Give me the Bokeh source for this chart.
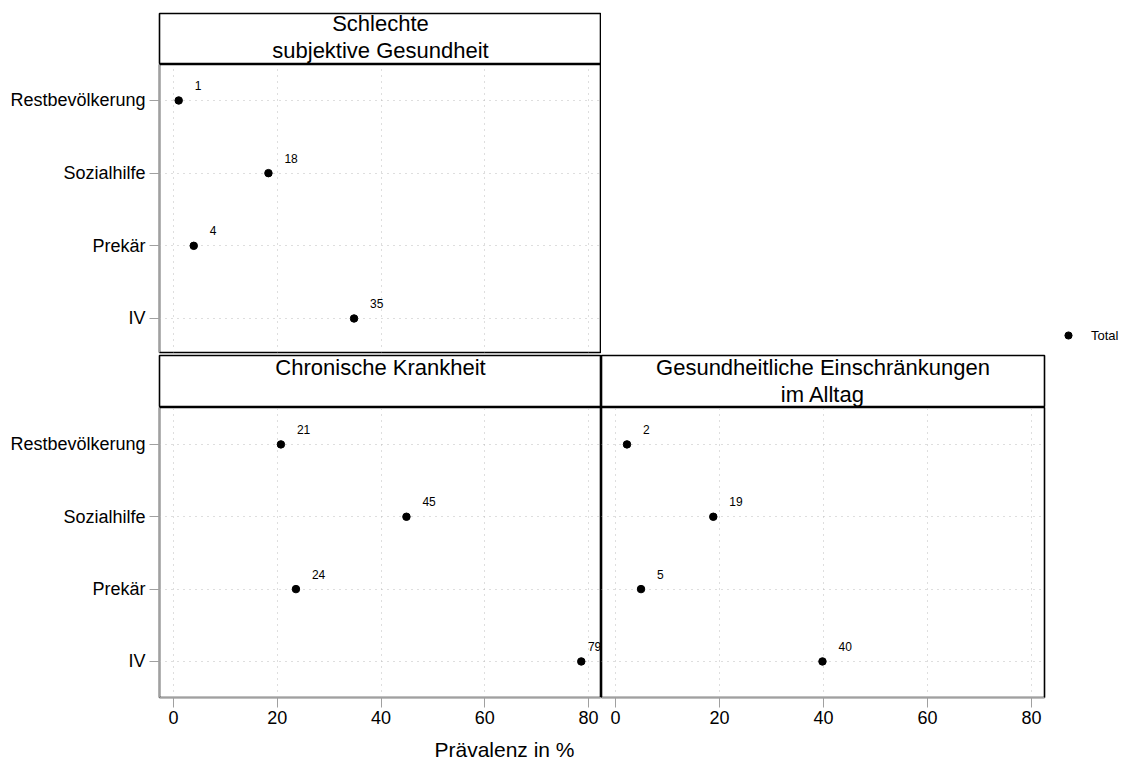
from bokeh.plotting import figure
from bokeh.models import (Range1d, LinearAxis, FixedTicker, Grid, ColumnDataSource,
                          Legend, LegendItem)
from bokeh.layouts import row, column
from bokeh.core.properties import value
from bokeh.embed import file_html
from bokeh.resources import INLINE

# ---------------- data ----------------
groups = ["Restbevölkerung", "Sozialhilfe", "Prekär", "IV"]
panel_titles = ["Schlechte\nsubjektive Gesundheit",
                "Chronische Krankheit",
                "Gesundheitliche Einschränkungen\nim Alltag"]
subj_health = [1.0, 18.3, 3.9, 34.8]
chronic = [20.7, 44.9, 23.6, 78.6]
restrictions = [2.2, 18.8, 4.9, 39.8]
x_ticks = [0, 20, 40, 60, 80]
x_title = "Prävalenz in %"
legend_label = "Total"

FONT = "Liberation Sans"
GRID_COLOR = "#bdbdbd"
AXIS_COLOR = "#a0a0a0"
X_MIN, X_MAX = -2.7, 82.5

ypos = [len(groups) - i for i in range(len(groups))]
ylabels = {y: g for y, g in zip(ypos, groups)}


def base_fig(width, height, mbl=0, mbr=0, mbt=0, mbb=0, xr=(0, 1), yr=(0, 1)):
    p = figure(width=width, height=height, x_range=Range1d(*xr), y_range=Range1d(*yr),
               x_axis_location=None, y_axis_location=None,
               toolbar_location=None, output_backend="svg",
               min_border_left=mbl, min_border_right=mbr,
               min_border_top=mbt, min_border_bottom=mbb)
    p.center = []
    p.outline_line_color = None
    p.background_fill_color = "white"
    p.border_fill_color = "white"
    return p


def strip(title, width, height, mbl, mbr, mbt, mbb, yoff):
    s = base_fig(width, height, mbl, mbr, mbt, mbb)
    s.outline_line_color = "black"
    s.outline_line_width = 1.6
    s.text(x=[0.5], y=[1], text=[title], text_align="center", text_baseline="top",
           text_font=value(FONT), text_font_size="22px", text_line_height=1.1,
           y_offset=yoff, text_color="black")
    return s


def panel(vals, width, height, mbl, mbr, mbt, mbb, yr, left_axis, bottom_axis):
    p = base_fig(width, height, mbl, mbr, mbt, mbb, xr=(X_MIN, X_MAX), yr=yr)
    p.outline_line_color = "black"
    p.outline_line_width = 1.6
    for dim, ticks in ((0, x_ticks), (1, ypos)):
        p.add_layout(Grid(dimension=dim, ticker=FixedTicker(ticks=ticks),
                          grid_line_color=GRID_COLOR, grid_line_dash="1 5",
                          grid_line_width=1), "center")
    # labels that would run past the panel edge are right-aligned instead
    near_edge = [v > X_MAX - 6 for v in vals]
    src = ColumnDataSource(dict(x=vals, y=ypos,
                                lab=[str(int(round(v))) for v in vals],
                                align=["right" if e else "left" for e in near_edge],
                                xoff=[20 if e else 16 for e in near_edge]))
    p.scatter("x", "y", source=src, size=7.5, color="black")
    p.text("x", "y", text="lab", source=src, x_offset="xoff", y_offset=-15,
           text_font=value(FONT), text_font_size="12px",
           text_baseline="middle", text_align="align", text_color="black")
    common = dict(axis_line_color=AXIS_COLOR, major_tick_line_color=AXIS_COLOR,
                  major_tick_out=10, major_tick_in=0, minor_tick_line_color=None,
                  major_label_text_font=FONT, major_label_text_font_size="18px",
                  major_label_text_color="black")
    if left_axis:
        ax = LinearAxis(ticker=FixedTicker(ticks=ypos), major_label_overrides=ylabels,
                        major_label_standoff=4, **common)
        p.add_layout(ax, "left")
    if bottom_axis:
        bx = LinearAxis(ticker=FixedTicker(ticks=x_ticks), major_label_standoff=3,
                        **common)
        p.add_layout(bx, "below")
    return p


LW = 601   # left column width (frame 159..601)
RW = 459   # right column width (frame 601..1044)

strip1 = strip(panel_titles[0], LW, 64, 159, 0, 13, 0, -3)
panel1 = panel(subj_health, LW, 290, 159, 0, 0, 2, (0.532, 4.495), True, False)

strip3 = strip(panel_titles[1], LW, 53, 159, 0, 1, 0, -1)
panel3 = panel(chronic, LW, 326, 159, 0, 0, 36, (0.502, 4.51), True, True)

strip4 = strip(panel_titles[2], RW, 53, 0, 16, 1, 0, -1)
panel4 = panel(restrictions, RW, 326, 0, 16, 0, 36, (0.502, 4.51), False, True)

# legend figure (the legend's renderer sits outside the visible range)
lf = base_fig(523, 354)
r = lf.scatter(x=[-10], y=[-10], size=7.5, color="black")
legend = Legend(items=[LegendItem(label=legend_label, renderers=[r])],
                location=(458, 10), padding=0, margin=0, spacing=0,
                glyph_width=18, glyph_height=18, label_height=18, label_standoff=14,
                label_text_font=FONT, label_text_font_size="13px",
                label_text_color="black",
                border_line_color=None, background_fill_alpha=0)
lf.add_layout(legend)

# axis title figure
tf = base_fig(1008, 28)
tf.text(x=[0.5], y=[0.5], text=[x_title], text_align="center", text_baseline="middle",
        text_font=value(FONT), text_font_size="21px", y_offset=2, text_color="black")

layout = column(
    row(column(strip1, panel1), lf),
    row(column(strip3, panel3), column(strip4, panel4)),
    tf,
)

open("out.html", "w").write(file_html(layout, INLINE))
